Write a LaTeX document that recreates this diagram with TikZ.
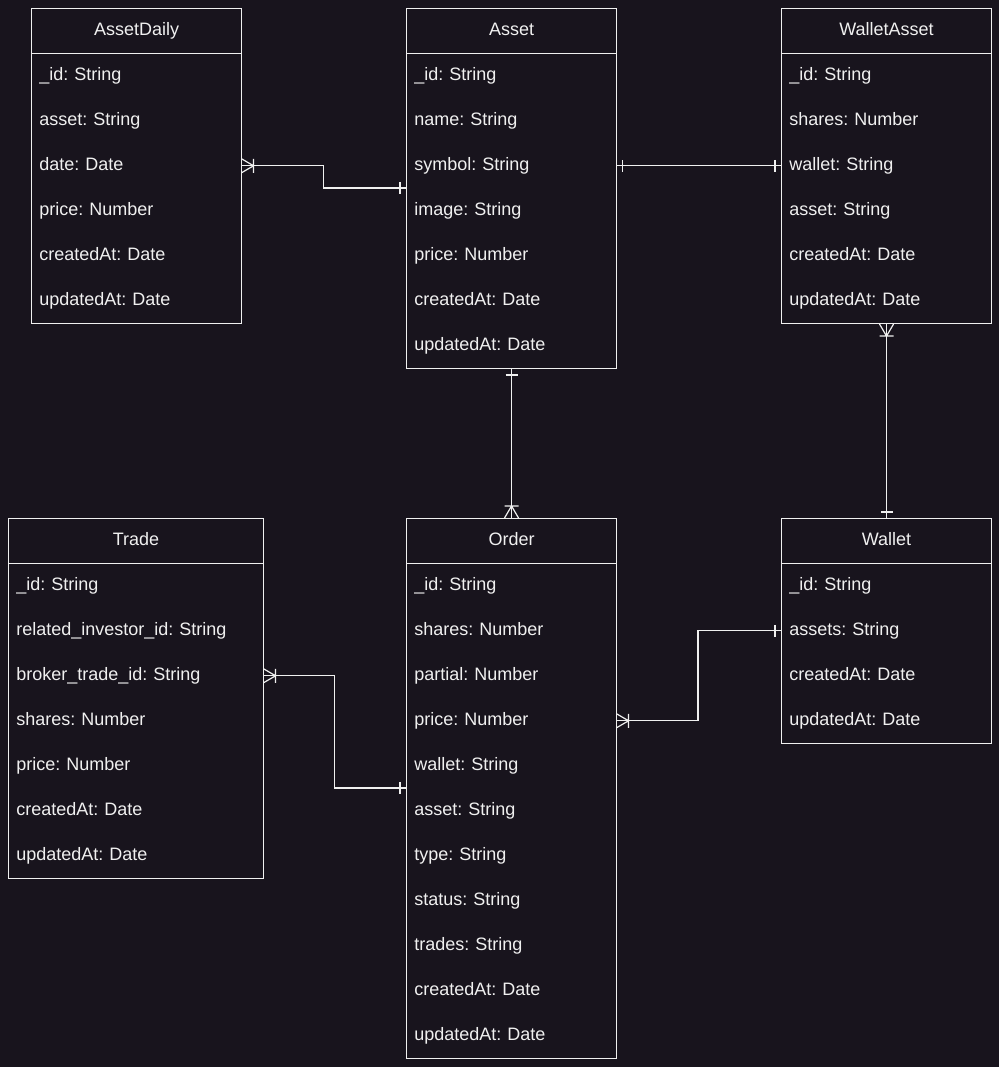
\documentclass[tikz,border=0pt]{standalone}
\usepackage{fontspec}
\setmainfont{Liberation Sans}
\frenchspacing
\definecolor{bgcol}{RGB}{24,20,29}
\definecolor{inkcol}{RGB}{240,240,240}

% ER end marks: crow's foot with bar (many) and single bar (one)
\pgfdeclarearrow{
  name = ERmany,
  setup code = {
    \pgfarrowssettipend{0pt}
    \pgfarrowssetlineend{0pt}
    \pgfarrowssetbackend{-9pt}
    \pgfarrowssetvisualbackend{-9pt}
    \pgfarrowshullpoint{0pt}{5.25pt}
    \pgfarrowshullpoint{0pt}{-5.25pt}
    \pgfarrowshullpoint{-9pt}{0pt}
  },
  drawing code = {
    \pgfsetroundjoin
    \pgfpathmoveto{\pgfqpoint{0pt}{5.25pt}}
    \pgfpathlineto{\pgfqpoint{-9pt}{0pt}}
    \pgfpathlineto{\pgfqpoint{0pt}{-5.25pt}}
    \pgfpathmoveto{\pgfqpoint{-9pt}{5.25pt}}
    \pgfpathlineto{\pgfqpoint{-9pt}{-5.25pt}}
    \pgfusepathqstroke
  }
}
\pgfdeclarearrow{
  name = ERone,
  setup code = {
    \pgfarrowssettipend{0pt}
    \pgfarrowssetlineend{0pt}
    \pgfarrowssetbackend{-4.5pt}
    \pgfarrowssetvisualbackend{-4.5pt}
    \pgfarrowshullpoint{-4.5pt}{4.5pt}
    \pgfarrowshullpoint{-4.5pt}{-4.5pt}
  },
  drawing code = {
    \pgfpathmoveto{\pgfqpoint{-4.5pt}{4.5pt}}
    \pgfpathlineto{\pgfqpoint{-4.5pt}{-4.5pt}}
    \pgfusepathqstroke
  }
}

\tikzset{
  erhead/.style={draw=inkcol, line width=0.8pt, text=inkcol, inner sep=0pt,
    text height=9.8pt, text depth=2.8pt,
    minimum height=33.75pt, anchor=north west},
  errow/.style={text=inkcol, inner xsep=6pt, inner ysep=0pt, align=left,
    text height=9.8pt, text depth=2.8pt,
    minimum height=33.75pt, anchor=north west},
  erframe/.style={draw=inkcol, line width=0.8pt, inner sep=0pt, anchor=north west},
  link/.style={draw=inkcol, line width=0.9pt},
}

% entity table: name, left x, top y, width, row count, title, rows
\newcommand\ertable[7]{%
  \node[erhead, minimum width={#4*0.75pt}] (#1) at (#2,#3) {#6};
  \foreach \r [count=\i] in {#7} {
    \node[errow, text width={(#4-16)*0.75pt}] (#1-\i) at (#2,#3+45*\i) {\r};
  }
  \node[erframe, minimum width={#4*0.75pt}, minimum height={45*(#5+1)*0.75pt}]
    (#1-box) at (#2,#3) {};
}

\begin{document}
\begin{tikzpicture}[x=0.75pt, y=-0.75pt, font=\fontsize{13.5}{16}\selectfont]
\fill[bgcol] (0,0) rectangle (999,1067);
\useasboundingbox (0,0) rectangle (999,1067);

\ertable{ad}{31}{8}{210}{6}{AssetDaily}
  {\_id: String, asset: String, date: Date, price: Number, createdAt: Date, updatedAt: Date}
\ertable{asset}{406}{8}{210}{7}{Asset}
  {\_id: String, name: String, symbol: String, image: String, price: Number, createdAt: Date, updatedAt: Date}
\ertable{wa}{781}{8}{210}{6}{WalletAsset}
  {\_id: String, shares: Number, wallet: String, asset: String, createdAt: Date, updatedAt: Date}
\ertable{trade}{8}{518}{255}{7}{Trade}
  {\_id: String, related\_investor\_id: String, broker\_trade\_id: String, shares: Number, price: Number, createdAt: Date, updatedAt: Date}
\ertable{order}{406}{518}{210}{11}{Order}
  {\_id: String, shares: Number, partial: Number, price: Number, wallet: String, asset: String, type: String, status: String, trades: String, createdAt: Date, updatedAt: Date}
\ertable{wallet}{781}{518}{210}{4}{Wallet}
  {\_id: String, assets: String, createdAt: Date, updatedAt: Date}

% relationships
\draw[link, ERmany-ERone] (ad-3.east) -- ++(82,0) |- (asset-4.north west);
\draw[link, ERone-ERone] (asset-3.east) -- (wa-3.west);
\draw[link, ERone-ERmany] (asset-box.south) -- (order-box.north);
\draw[link, ERmany-ERone] (wa-box.south) -- (wallet-box.north);
\draw[link, ERmany-ERone] (trade-3.east) -- ++(71,0) |- (order-6.north west);
\draw[link, ERone-ERmany] (wallet-2.west) -- ++(-83,0) |- (order-4.east);
\end{tikzpicture}
\end{document}
